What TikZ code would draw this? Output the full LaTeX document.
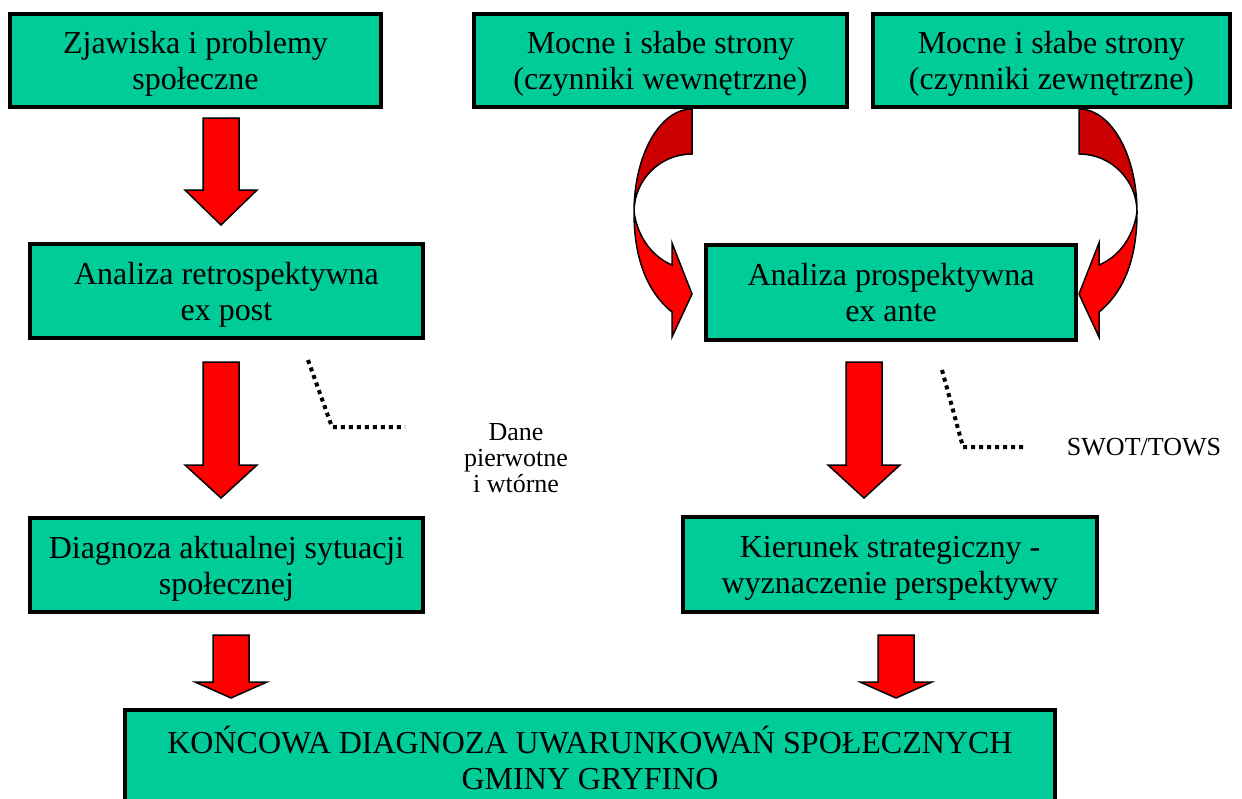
\documentclass[tikz,border=0pt]{standalone}
\usepackage{fontspec}
\setmainfont{Liberation Serif}
\usepackage{xcolor}
\usepackage{tikz}
\definecolor{boxgreen}{RGB}{0,204,153}
\definecolor{backred}{RGB}{204,0,0}

\begin{document}
\begin{tikzpicture}[x=1pt,y=-1pt,
	box/.style={draw=black, line width=4pt, fill=boxgreen, align=center, inner sep=0pt, font=\fontsize{32}{36}\selectfont},
	lowbox/.style={box, text depth=-9pt},
	blockarrow/.style={draw=black, line width=1.5pt, fill=red, line join=miter},
	note/.style={align=center, font=\fontsize{26}{26}\selectfont},
	dots/.style={line width=4pt, dash pattern=on 4pt off 4pt}]
	\useasboundingbox (0,0) rectangle (1242,798);
	% boxes
	\node[lowbox, minimum width=371pt, minimum height=93pt] (zjawiska) at (195.5,60.5) {Zjawiska i problemy\\społeczne};
	\node[lowbox, minimum width=373pt, minimum height=93pt] (wewn) at (660.5,60.5) {Mocne i słabe strony\\(czynniki wewnętrzne)};
	\node[lowbox, minimum width=357pt, minimum height=93pt] (zewn) at (1051.5,60.5) {Mocne i słabe strony\\(czynniki zewnętrzne)};
	\node[lowbox, minimum width=393pt, minimum height=94pt] (retro) at (226.5,291) {Analiza retrospektywna\\ex post};
	\node[lowbox, minimum width=370pt, minimum height=95pt] (prosp) at (891,292.5) {Analiza prospektywna\\ex ante};
	\node[lowbox, minimum width=393pt, minimum height=94pt] (diagnoza) at (226.5,565) {Diagnoza aktualnej sytuacji\\społecznej};
	\node[lowbox, minimum width=414pt, minimum height=95pt] (kierunek) at (890,564.5) {Kierunek strategiczny -\\wyznaczenie perspektywy};
	\node[box, minimum width=930pt, minimum height=95pt] (koncowa) at (590,757.5) {KOŃCOWA DIAGNOZA UWARUNKOWAŃ SPOŁECZNYCH\\GMINY GRYFINO};
	% down arrows
	\foreach \cx/\top/\base/\tip in {221/118/190/225, 221/362/465/498, 231/635/682/698, 864/362/465/498, 896/635/682/698}
		\draw[blockarrow] (\cx-18,\top) -- (\cx+18,\top) -- (\cx+18,\base) -- (\cx+36,\base) -- (\cx,\tip) -- (\cx-36,\base) -- (\cx-18,\base) -- cycle;
	% curved arrows
	\foreach \sh/\sc in {0/1, 1771/-1}{
		\begin{scope}[shift={(\sh,0)}, xscale=\sc]
			\draw[blockarrow, fill=backred] (692,109) .. controls (660,109) and (634,155) .. (634,212) .. controls (634,180) and (660,154) .. (692,154) -- cycle;
			\draw[blockarrow] (634,212) .. controls (634,255) and (645,290) .. (672,312) -- (672,337) -- (692,294) -- (672,243) -- (672,265) .. controls (655,258) and (638,240) .. (634,212) -- cycle;
		\end{scope}
	}
	% notes
	\coordinate (d1a) at (308,360);
	\coordinate (d1b) at (332,427);
	\coordinate (d1c) at (405,427);
	\draw[dots] (d1a) -- (d1b) -- (d1c);
	\node[note] (dane) at (516,458) {Dane\\pierwotne\\i wtórne};
	\coordinate (d2a) at (942,370);
	\coordinate (d2b) at (963,447);
	\coordinate (d2c) at (1025,447);
	\draw[dots] (d2a) -- (d2b) -- (d2c);
	\node[note] (swot) at (1144,447) {SWOT/TOWS};
\end{tikzpicture}
\end{document}
